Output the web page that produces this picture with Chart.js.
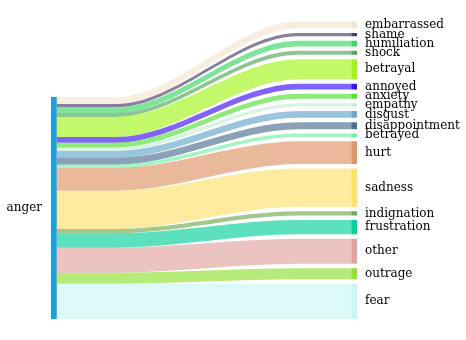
<!DOCTYPE html>
<html>
<head>
<meta charset="utf-8">
<script src="https://cdn.jsdelivr.net/npm/chart.js@4/dist/chart.umd.min.js"></script>
<style>
  body { margin: 0; background: #fff; }
</style>
</head>
<body>
<canvas id="chart" width="466" height="340"></canvas>
<script>
// source node on the left
const source = "anger";
const sourceColor = "#1a9fdc";

// target nodes on the right, listed bottom to top
const targets = ["fear", "outrage", "other", "frustration", "indignation", "sadness", "hurt", "betrayed",
  "disappointment", "disgust", "empathy", "anxiety", "annoyed", "betrayal", "shock", "humiliation", "shame", "embarrassed"];
const weights = [35.3, 11, 25, 14.4, 4.3, 38.3, 22.7, 3.3, 7, 6.7, 3.3, 5, 5.7, 20, 4, 5.7, 3.3, 7];
const colors = ["#c9f6f3", "#8fe133", "#e1a3a0", "#06d09a", "#70ab52", "#fee16d", "#de9467", "#72f19f",
  "#4c6f92", "#66a6cb", "#c3efd4", "#52e133", "#3c0ff5", "#a3f51c", "#4da658", "#3cd464", "#463a68", "#f3e5ce"];

const total = weights.reduce((a, b) => a + b, 0);
const gap = 0.02 * total;

function rgba(hex, a) {
  const n = parseInt(hex.slice(1), 16);
  return `rgba(${n >> 16}, ${(n >> 8) & 255}, ${n & 255}, ${a})`;
}

// stack positions (left: no gaps inside the single node, right: gaps between nodes)
const leftBottoms = [];
const rightBottoms = [];
let lb = 0, rb = 0;
weights.forEach((w) => {
  leftBottoms.push(lb);
  rightBottoms.push(rb);
  lb += w;
  rb += w + gap;
});
const topEdge = rb - gap;
const rightCenters = weights.map((w, i) => rightBottoms[i] + w / 2);

const hidden = { borderColor: "rgba(0,0,0,0)", borderWidth: 0, pointRadius: 0, fill: false };
const datasets = [];

// flows: a lower edge and an upper edge filled down to it
weights.forEach((w, i) => {
  const l = leftBottoms[i], r = rightBottoms[i];
  datasets.push({
    ...hidden,
    data: [{ x: 0, y: l }, { x: 0.2, y: l }, { x: 0.82, y: r }, { x: 1, y: r }],
    cubicInterpolationMode: "monotone"
  });
  datasets.push({
    ...hidden,
    data: [{ x: 0, y: l + w }, { x: 0.2, y: l + w }, { x: 0.82, y: r + w }, { x: 1, y: r + w }],
    cubicInterpolationMode: "monotone",
    fill: "-1",
    backgroundColor: rgba(colors[i], 0.65)
  });
});

// nodes
datasets.push({
  ...hidden,
  data: [{ x: -0.02, y: total }, { x: 0, y: total }],
  fill: { value: 0 },
  backgroundColor: rgba(sourceColor, 0.99)
});
weights.forEach((w, i) => {
  datasets.push({
    ...hidden,
    data: [{ x: 1, y: rightBottoms[i] + w }, { x: 1.02, y: rightBottoms[i] + w }],
    fill: { value: rightBottoms[i] },
    backgroundColor: rgba(colors[i], 0.99)
  });
});

const labelFont = { family: "'DejaVu Serif', serif", size: 12 };

new Chart(document.getElementById("chart"), {
  type: "line",
  data: { datasets },
  options: {
    responsive: false,
    animation: false,
    events: [],
    layout: { padding: { top: 21.5, bottom: 21, left: 0, right: 0 } },
    plugins: { legend: { display: false }, tooltip: { enabled: false } },
    scales: {
      x: { type: "linear", min: -0.02, max: 1.02, display: false },
      y: {
        type: "linear", position: "left", min: 0, max: topEdge,
        grid: { display: false, drawTicks: false }, border: { display: false },
        afterBuildTicks: (axis) => { axis.ticks = [{ value: total / 2 }]; },
        afterFit: (axis) => { axis.width = 51; },
        ticks: { autoSkip: false, padding: 9, color: "#000", font: labelFont, callback: () => source }
      },
      yR: {
        type: "linear", position: "right", min: 0, max: topEdge,
        grid: { display: false, drawTicks: false }, border: { display: false },
        afterBuildTicks: (axis) => { axis.ticks = rightCenters.map(v => ({ value: v })); },
        afterFit: (axis) => { axis.width = 109; },
        ticks: { autoSkip: false, padding: 8, color: "#000", font: labelFont, callback: (v, i) => targets[i] }
      }
    }
  }
});
</script>
</body>
</html>
